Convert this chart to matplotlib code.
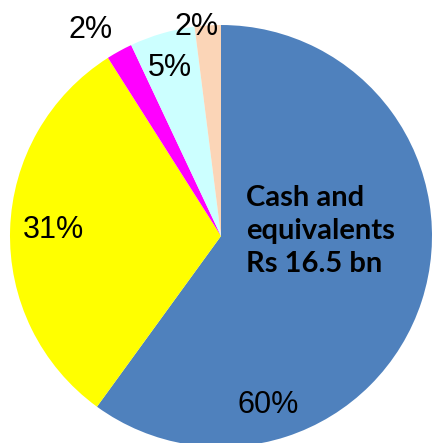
import matplotlib
matplotlib.use("Agg")
import matplotlib.pyplot as plt

# share of total, clockwise from 12 o'clock
shares = [60, 31, 2, 5, 2]
pct_labels = ["60%", "31%", "2%", "5%", "2%"]
colors = ["#4F81BD", "#FFFF00", "#FF00FF", "#CCFFFF", "#FBD5B7"]
# where each % label sits (pie radius = 1, centre = 0,0)
label_xy = [(0.223, -0.80), (-0.796, 0.03), (-0.62, 0.975), (-0.242, 0.795), (-0.118, 0.99)]
callout = "Cash and\nequivalents\nRs 16.5 bn"

fig = plt.figure(figsize=(4.32, 4.43), dpi=100)
ax = fig.add_axes([0, 0, 1, 1])
ax.pie(shares, colors=colors, startangle=90, counterclock=False,
       radius=1.0, center=(0, 0), wedgeprops=dict(linewidth=0))

for (x, y), lab in zip(label_xy, pct_labels):
    ax.text(x, y, lab, fontsize=22, family=["Liberation Sans"],
            ha="center", va="center", color="black")

ax.text(0.12, 0.025, callout, fontsize=21, family=["Lato"], weight="bold",
        ha="left", va="center", linespacing=1.33, color="black")

ax.set_xlim(-221 / 211, 211 / 211)
ax.set_ylim(-207 / 211, 236 / 211)
ax.set_aspect("equal")
ax.axis("off")
fig.savefig("out.png", dpi=100)
